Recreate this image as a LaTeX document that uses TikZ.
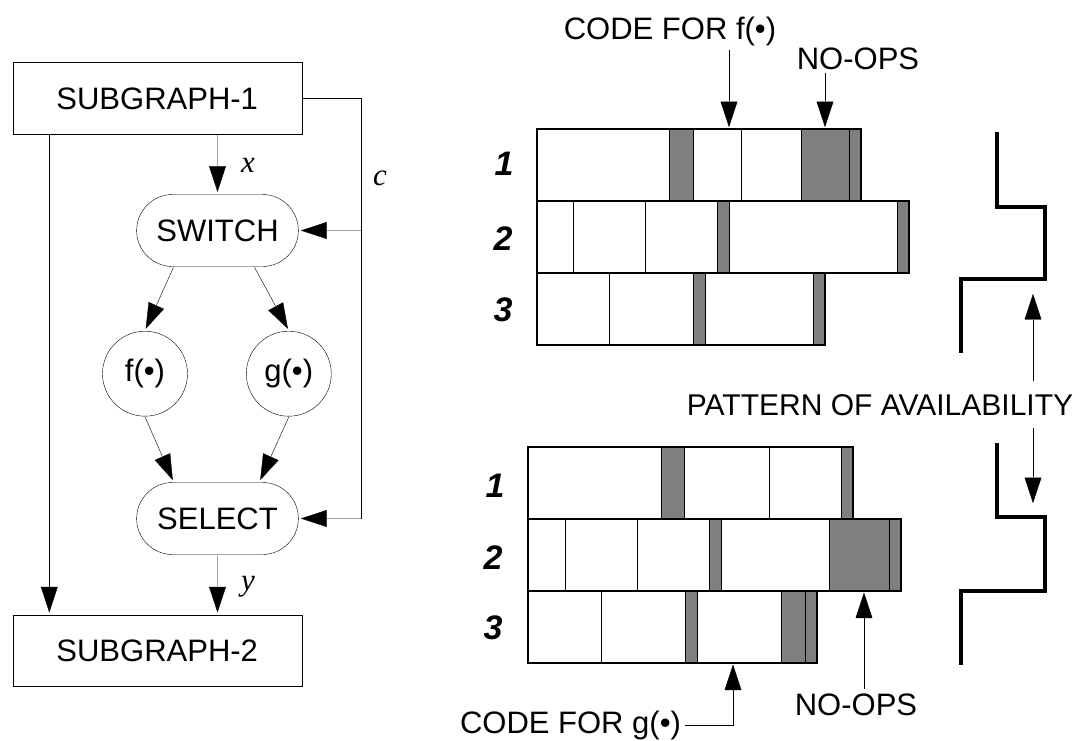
\documentclass[tikz,border=0pt]{standalone}
\usepackage{fontspec}
\setmainfont{Liberation Sans}
\newfontfamily\varfont{Liberation Serif}
\usetikzlibrary{arrows.meta, shapes.misc}
\definecolor{noop}{HTML}{808080}
\newcommand{\var}[1]{{\varfont\itshape #1}}
\newcommand{\fnof}[1]{#1(•)}

\begin{document}
\begin{tikzpicture}
                \tikzset{x=1pt, y=-1pt, line width=1.5pt, >={Triangle[length=28pt, width=18pt]}}
                \tikzstyle{txt}=[font=\fontsize{31}{31}\selectfont]
                \tikzstyle{sub}=[txt, rectangle, draw, minimum width=289pt, minimum height=71.5pt]
                \tikzstyle{op}=[txt, rounded rectangle, draw, minimum width=168.4pt, minimum height=72pt]
                \tikzstyle{fun}=[txt, circle, draw, inner sep=0pt, minimum size=85pt]
                \tikzstyle{num}=[font=\fontsize{34}{34}\selectfont\bfseries\itshape]
                \tikzstyle{row}=[line width=2.2pt]
                \tikzstyle{avail}=[line width=4.7pt]

                \useasboundingbox (0,0) rectangle (1090,740);

                % dataflow graph
                \draw (157.2, 98.4)     node[sub]   (sub1)  {SUBGRAPH-1};
                \draw (217.5, 230.5)    node[op]    (sw)    {SWITCH};
                \draw (145.0, 373.7)    node[fun]   (f)     {\fnof{f}};
                \draw (288.8, 373.7)    node[fun]   (g)     {\fnof{g}};
                \draw (217.5, 518.5)    node[op]    (sel)   {SELECT};
                \draw (157.2, 650.8)    node[sub]   (sub2)  {SUBGRAPH-2};

                \coordinate (lft)  at (49.3, 0);
                \coordinate (cbus) at (361, 0);

                % graph arrows
                \draw [->]          (sw.north |- sub1.south) -- (sw);
                \draw [->]          ([xshift=-44pt]sw.south) -- (f.north);
                \draw [->]          ([xshift=37pt]sw.south) -- (g.north);
                \draw [->]          (f.south) -- ([xshift=-44pt]sel.north);
                \draw [->]          (g.south) -- ([xshift=42pt]sel.north);
                \draw [->]          (sel) -- (sel.south |- sub2.north);
                \draw [->]          (sub1.south -| lft) -- (sub2.north -| lft);
                \draw               (sub1.east) -| (cbus |- sel.east);
                \draw [->]          (cbus |- sw.east) -- (sw);
                \draw [->]          (cbus |- sel.east) -- (sel);

                % variable names
                \draw (248, 172)        node[txt, anchor=base]  (vx)    {\var{x}};
                \draw (380, 185)        node[txt, anchor=base]  (vc)    {\var{c}};
                \draw (248, 590)        node[txt, anchor=base]  (vy)    {\var{y}};

                % first schedule
                \foreach \a/\b/\c in {537/669/white, 669/693/noop, 693/741/white, 741/801/white, 801/849/noop, 849/861/noop}
                    \filldraw[fill=\c] (\a,129) rectangle (\b,200.7);
                \draw[row] (537,129) rectangle (861,200.7);
                \foreach \a/\b/\c in {537/573/white, 573/645/white, 645/717/white, 717/729/noop, 729/897/white, 897/909/noop}
                    \filldraw[fill=\c] (\a,200.7) rectangle (\b,272.7);
                \draw[row] (537,200.7) rectangle (909,272.7);
                \foreach \a/\b/\c in {537/609/white, 609/693/white, 693/705/noop, 705/813/white, 813/825/noop}
                    \filldraw[fill=\c] (\a,272.7) rectangle (\b,345);
                \draw[row] (537,272.7) rectangle (825,345);

                % second schedule
                \foreach \a/\b/\c in {528/661/white, 661/684/noop, 684/769/white, 769/841/white, 841/853/noop}
                    \filldraw[fill=\c] (\a,447) rectangle (\b,519);
                \draw[row] (528,447) rectangle (853,519);
                \foreach \a/\b/\c in {528/565/white, 565/637/white, 637/709/white, 709/721/noop, 721/829/white, 829/889/noop, 889/901/noop}
                    \filldraw[fill=\c] (\a,519) rectangle (\b,590.7);
                \draw[row] (528,519) rectangle (901,590.7);
                \foreach \a/\b/\c in {528/601/white, 601/685/white, 685/697/noop, 697/781/white, 781/805/noop, 805/817/noop}
                    \filldraw[fill=\c] (\a,590.7) rectangle (\b,662.7);
                \draw[row] (528,590.7) rectangle (817,662.7);

                % row numbers
                \draw (504, 164)        node[num]   (t1)    {1};
                \draw (503, 239)        node[num]   (t2)    {2};
                \draw (503, 310)        node[num]   (t3)    {3};
                \draw (495, 486)        node[num]   (b1)    {1};
                \draw (493, 558)        node[num]   (b2)    {2};
                \draw (493, 628)        node[num]   (b3)    {3};

                % availability
                \draw[avail] (997,132) -- (997,207) -- (1045,207) -- (1045,279) -- (961,279) -- (961,353);
                \draw[avail] (997,443) -- (997,517) -- (1045,517) -- (1045,591) -- (961,591) -- (961,665);

                % annotations
                \draw (670, 39)         node[txt, anchor=base]  (cf)    {CODE FOR \fnof{f}};
                \draw (858, 69)         node[txt, anchor=base]  (nop1)  {NO-OPS};
                \draw (880, 415)        node[txt, anchor=base, font=\fontsize{30}{30}\selectfont, inner ysep=12pt] (pat) {PATTERN OF AVAILABILITY};
                \draw (570.5, 733)      node[txt, anchor=base]  (cg)    {CODE FOR \fnof{g}};
                \draw (856, 715)        node[txt, anchor=base]  (nop2)  {NO-OPS};

                \coordinate (cfend)  at (729, 129);
                \coordinate (nop1end) at (825, 129);
                \coordinate (av1)    at (1033, 292);
                \coordinate (av2)    at (1033, 505);
                \coordinate (cgend)  at (733, 662.7);
                \coordinate (nop2end) at (864, 590.7);

                % annotation arrows
                \draw [->]          (cf.south -| cfend) -- (cfend);
                \draw [->]          (nop1.south -| nop1end) -- (nop1end);
                \draw [->]          (pat.north -| av1) -- (av1);
                \draw [->]          (pat.south -| av2) -- (av2);
                \draw [->]          (cg.east) -| (cgend);
                \draw [->]          (nop2.north -| nop2end) -- (nop2end);
\end{tikzpicture}
\end{document}
